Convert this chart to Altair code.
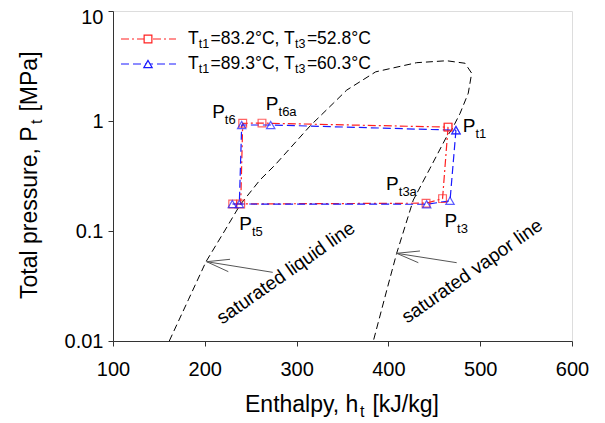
import altair as alt
import pandas as pd

FONT = "Liberation Sans"

# ---------------- data ----------------
# saturation dome, traced from the liquid side (bottom-left) over the top to the vapor side
dome_h = [161.3, 182.4, 201.3, 221.5, 238.3, 260.1, 276.5, 314.6, 340.0, 354.6, 386.2,
          430.8, 463.4, 483.4, 490.7, 487.0, 478.0, 468.9, 463.4, 445.3, 427.1, 409.0,
          398.7, 383.6]
dome_p = [0.01, 0.024, 0.0526, 0.10, 0.172, 0.291, 0.398, 0.90, 1.45, 1.91, 2.80,
          3.39, 3.53, 3.35, 2.72, 1.79, 1.17, 0.83, 0.72, 0.371, 0.191, 0.0627,
          0.03, 0.01]

# cycle points in order: Pt1, Pt3, Pt3a, Pt5, Pt5', Pt6, Pt6a, back to Pt1
red_h = [465.0, 459.0, 441.0, 230.4, 239.1, 241.3, 262.3, 465.0]
red_p = [0.880, 0.197, 0.179, 0.176, 0.176, 0.953, 0.957, 0.880]
blue_h = [473.6, 467.1, 441.7, 230.0, 237.6, 240.2, 271.8, 473.6]
blue_p = [0.825, 0.188, 0.175, 0.176, 0.176, 0.920, 0.920, 0.825]

legend_t1 = ["83.2", "89.3"]
legend_t3 = ["52.8", "60.3"]

# state-point labels (P + subscript), anchor = left end of the "P" baseline
label_sub = ["t6", "t6a", "t1", "t3a", "t3", "t5"]
label_h = [208.0, 266.5, 481.0, 397.5, 461.0, 237.5]
label_p = [1.065, 1.259, 0.800, 0.236, 0.1087, 0.102]

# annotation arrows: shaft (tail -> tip) and two head strokes
arrow_h = [274.0, 202.0, 202.0, 474.4, 409.0, 409.0]
arrow_p = [0.0421, 0.0526, 0.0526, 0.0515, 0.0627, 0.0627]
arrow_h2 = [202.0, 227.5, 225.6, 409.0, 434.4, 432.6]
arrow_p2 = [0.0526, 0.0553, 0.0427, 0.0627, 0.0658, 0.0515]

line_text = ["saturated liquid line", "saturated vapor line"]
line_text_h = [292.0, 495.0]
line_text_p = [0.0375, 0.0390]

# ---------------- helpers ----------------
AW = {' ': 278, ',': 278, '.': 278, '/': 278, '=': 584, '[': 278, ']': 278, '°': 400,
      'C': 722, 'E': 667, 'J': 500, 'M': 833, 'P': 667, 'T': 611, 'a': 556, 'e': 556,
      'g': 556, 'h': 556, 'k': 500, 'l': 222, 'n': 556, 'o': 556, 'p': 556, 'r': 333,
      's': 500, 't': 278, 'u': 556, 'y': 500}
for d in "0123456789":
    AW[d] = 556


def tw(s, size):
    return sum(AW.get(c, 556) for c in s) * size / 1000.0


W, H = 459, 330
xs = alt.Scale(domain=[100, 600], nice=False, zero=False)
ys = alt.Scale(type="log", domain=[0.01, 10], nice=False)
AX = dict(grid=False, title=None, labelFont=FONT, labelFontSize=20, labelColor="black",
          tickSize=5, tickColor="#333", domainColor="#333", tickWidth=1, domainWidth=1)
x_axis = alt.Axis(values=[100, 200, 300, 400, 500, 600], labelPadding=13, labelFlush=False, **AX)
y_axis = alt.Axis(values=[0.01, 0.1, 1, 10], format="~g", labelPadding=5, labelFlush=False,
                  labelOffset=alt.condition("datum.value >= 10", alt.value(6), alt.value(0)), **AX)


def X(f="h"):
    return alt.X(f"{f}:Q", scale=xs, axis=x_axis)


def Y(f="p"):
    return alt.Y(f"{f}:Q", scale=ys, axis=y_axis)


one = alt.Data(values=[{}])


def piece(text, x, y, size, dx=0, dy=0, angle=0):
    return alt.Chart(one).mark_text(
        text=text, font=FONT, fontSize=size, align="left", baseline="alphabetic",
        dx=dx, dy=dy, angle=angle, color="black"
    ).encode(x=alt.value(x), y=alt.value(y))


def compose(segs, x, y, angle=0):
    """segs: (text, size, baseline shift); leading spaces become offsets."""
    out, off = [], 0.0
    for s, fs, sh in segs:
        lead = len(s) - len(s.lstrip(" "))
        off += tw(" " * lead, fs)
        s2 = s.lstrip(" ")
        out.append(piece(s2, x, y, fs, dx=off, dy=sh, angle=angle))
        off += tw(s2, fs) + (1.5 if sh else 0)
    return out, off


layers = []

# dome
dome = pd.DataFrame({"h": dome_h, "p": dome_p, "o": range(len(dome_h))})
layers.append(alt.Chart(dome).mark_line(color="black", strokeWidth=1, strokeDash=[7, 4]).encode(
    x=X(), y=Y(), order="o:Q"))

# cycles
red = pd.DataFrame({"h": red_h, "p": red_p, "o": range(len(red_h))})
blue = pd.DataFrame({"h": blue_h, "p": blue_p, "o": range(len(blue_h))})
RED, BLUE = "#ff2020", "#1a1aff"
RED_DASH, BLUE_DASH = [8, 3, 2, 3], [8, 4]
layers.append(alt.Chart(red).mark_line(color=RED, strokeWidth=1.2, strokeDash=RED_DASH).encode(
    x=X(), y=Y(), order="o:Q"))
layers.append(alt.Chart(blue).mark_line(color=BLUE, strokeWidth=1.2, strokeDash=BLUE_DASH).encode(
    x=X(), y=Y(), order="o:Q"))
layers.append(alt.Chart(red).mark_point(shape="square", size=60, filled=False, color=RED,
                                        strokeWidth=1.2).encode(x=X(), y=Y()))
layers.append(alt.Chart(blue).mark_point(shape="triangle-up", size=70, filled=False, color=BLUE,
                                         strokeWidth=1.2).encode(x=X(), y=Y()))

# arrows
arrows = pd.DataFrame({"h": arrow_h, "p": arrow_p, "h2": arrow_h2, "p2": arrow_p2})
layers.append(alt.Chart(arrows).mark_rule(color="#555", strokeWidth=1).encode(
    x=X(), y=Y(), x2="h2:Q", y2="p2:Q"))

# rotated line names
lt = pd.DataFrame({"h": line_text_h, "p": line_text_p, "t": line_text})
layers.append(alt.Chart(lt).mark_text(font=FONT, fontSize=19, angle=325, align="center",
                                      baseline="alphabetic", color="black").encode(
    x=X(), y=Y(), text="t:N"))

# state-point labels
lab = pd.DataFrame({"h": label_h, "p": label_p, "s": label_sub, "P": ["P"] * len(label_sub)})
layers.append(alt.Chart(lab).mark_text(font=FONT, fontSize=19, align="left", baseline="alphabetic",
                                       color="black").encode(x=X(), y=Y(), text="P:N"))
layers.append(alt.Chart(lab).mark_text(font=FONT, fontSize=13, align="left", baseline="alphabetic",
                                       dx=tw("P", 19), dy=6, color="black").encode(
    x=X(), y=Y(), text="s:N"))

# legend (drawn by hand so the subscripts can be shown)
LS, SS = 17.5, 12.5
for i, (t1, t3) in enumerate(zip(legend_t1, legend_t3)):
    yl = 28 + 25 * i
    yb = 32.5 + 25 * i
    col = RED if i == 0 else BLUE
    dash = RED_DASH if i == 0 else BLUE_DASH
    layers.append(alt.Chart(one).mark_rule(color=col, strokeWidth=1.2, strokeDash=dash).encode(
        x=alt.value(8), x2=alt.value(63), y=alt.value(yl)))
    layers.append(alt.Chart(one).mark_point(shape="square" if i == 0 else "triangle-up",
                                            size=60 if i == 0 else 70, filled=False, color=col,
                                            strokeWidth=1.2, fill="white", fillOpacity=1).encode(
        x=alt.value(35), y=alt.value(yl)))
    segs = [("T", LS, 0), ("t1", SS, 4.5), (f"={t1}°C, T", LS, 0), ("t3", SS, 4.5), (f"={t3}°C", LS, 0)]
    pcs, _ = compose(segs, 75, yb)
    layers += pcs

# axis titles (drawn as text so the subscripts can be shown)
TS, TSS = 23, 16
pcs, _ = compose([("Enthalpy, h", TS, 0), ("t", TSS, 5), (" [kJ/kg]", TS, 0)], 132, 401)
layers += pcs

ytitle = [("Total pressure, P", TS, 0), ("t", TSS, 5), (" [MPa]", TS, 0)]
ylen = sum(tw(s, fs) for s, fs, _ in ytitle)
pcs, _ = compose(ytitle, -76, H / 2 + ylen / 2, angle=270)
layers += pcs

chart = alt.layer(*layers).properties(
    width=W, height=H,
    autosize=alt.AutoSizeParams(type="none"),
    padding={"left": 105, "top": 3, "right": 20, "bottom": 82},
).configure_view(stroke="#333", strokeWidth=1).configure(background="white")

chart.save("out.html", embed_options={"renderer": "svg", "actions": False})
